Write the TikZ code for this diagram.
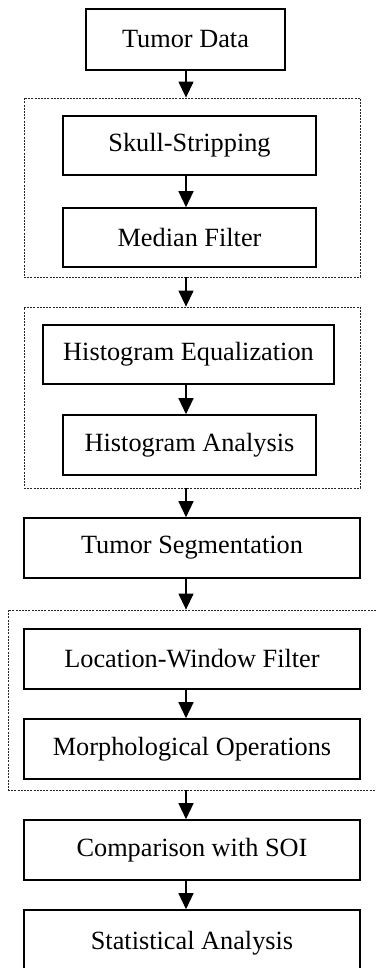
\documentclass[tikz,border=0pt]{standalone}
\usepackage{fontspec}
\setmainfont{Liberation Serif}
\usepackage{tikz}
\usetikzlibrary{arrows.meta,calc,positioning}
\tikzset{
  stageBox/.style={draw, line width=1.6pt, inner sep=0pt, minimum height=60pt,
    font=\fontsize{26.3pt}{30pt}\selectfont},
  groupBox/.style={draw=black!85, line width=0.8pt, dash pattern=on 2pt off 1.2pt,
    inner sep=0pt},                % dashed frame round a pair of steps
  flowArrow/.style={-{Triangle[width=15pt,length=16pt]}, line width=1.3pt}
}

\begin{document}
\begin{tikzpicture}[x=1pt,y=-1pt]
  \useasboundingbox (0,0) rectangle (375,968);
  \coordinate (spine) at (186,0);
  % dashed groups
  \node[groupBox, minimum width=336pt, minimum height=179pt] (g1) at (192,187.5) {};
  \node[groupBox, minimum width=336pt, minimum height=181pt] (g2) at (192,397.5) {};
  \node[groupBox, minimum width=382pt, minimum height=180pt] (g3) at (199,700) {};
  % steps
  \node[stageBox, minimum width=199pt, minimum height=61pt] (td) at (185.5,39.5) {Tumor Data};
  \node[stageBox, minimum width=253pt, minimum height=59pt] (sk) at (189.5,145.5) {Skull-Stripping};
  \node[stageBox, minimum width=253pt, minimum height=59pt] (mf) at (189.5,237.5) {Median Filter};
  \node[stageBox, minimum width=291pt, minimum height=59pt] (he) at (188.5,354.5) {Histogram Equalization};
  \node[stageBox, minimum width=253pt] (ha) at (189.5,445) {Histogram Analysis};
  \node[stageBox, minimum width=336pt] (ts) at (192,548) {Tumor Segmentation};
  \node[stageBox, minimum width=336pt] (lw) at (192,659) {Location-Window Filter};
  \node[stageBox, minimum width=336pt] (mo) at (192,749) {Morphological Operations};
  \node[stageBox, minimum width=336pt] (co) at (192,850) {Comparison with SOI};
  % last box runs off the lower edge
  \node[stageBox, minimum width=336pt, minimum height=66pt] (sa) at (192,943) {Statistical Analysis};
  % arrows down the spine
  \foreach \a/\b in {td/g1, sk/mf, g1/g2, he/ha, g2/ts, ts/g3, lw/mo, g3/co, co/sa}
    \draw[flowArrow] (spine |- \a.south) -- (spine |- \b.north);
\end{tikzpicture}
\end{document}
